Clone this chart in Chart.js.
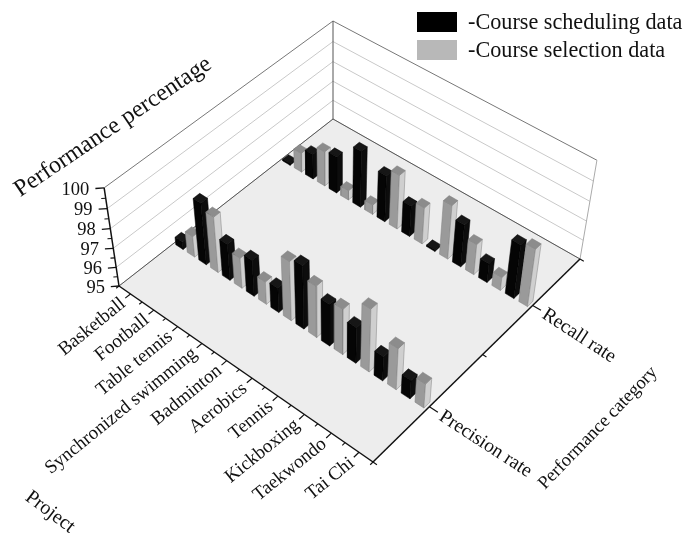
<!DOCTYPE html>
<html>
<head>
<meta charset="utf-8">
<style>
  html, body { margin: 0; padding: 0; background: #fff; }
  canvas { display: block; }
</style>
<script src="https://cdn.jsdelivr.net/npm/chart.js@4/dist/chart.umd.min.js"></script>
</head>
<body>
<canvas id="chart" width="687" height="534"></canvas>
<script>
// values
const projects = ['Basketball', 'Football', 'Table tennis', 'Synchronized swimming', 'Badminton',
  'Aerobics', 'Tennis', 'Kickboxing', 'Taekwondo', 'Tai Chi'];
const categories = ['Precision rate', 'Recall rate'];
const seriesNames = ['-Course scheduling data', '-Course selection data'];
const zTicks = [95, 96, 97, 98, 99, 100];

const schedulingPrecision = [95.4, 98.2, 96.9, 96.9, 96.3, 98.3, 97.2, 96.9, 96.3, 96.0];
const selectionPrecision = [96.1, 97.9, 96.6, 96.2, 98.1, 97.7, 97.4, 98.3, 97.2, 96.3];
const schedulingRecall = [95.1, 96.3, 96.9, 97.9, 97.4, 96.6, 95.1, 97.2, 96.0, 97.8];
const selectionRecall = [96.0, 96.8, 95.5, 95.5, 97.8, 96.9, 97.8, 96.6, 95.7, 98.0];

// camera: corners of the floor in canvas space and vanishing point of the verticals
const floorA = [119, 286], floorB = [373, 462], floorC = [580, 259], floorD = [333, 119];
const vanish = [333, 1700];
const backTopY = 21;

const dx1 = floorB[0] - floorC[0], dx2 = floorD[0] - floorC[0], sx = floorA[0] - floorB[0] + floorC[0] - floorD[0];
const dy1 = floorB[1] - floorC[1], dy2 = floorD[1] - floorC[1], sy = floorA[1] - floorB[1] + floorC[1] - floorD[1];
const det = dx1 * dy2 - dx2 * dy1;
const g = (sx * dy2 - dx2 * sy) / det, h = (dx1 * sy - sx * dy1) / det;
const a = floorB[0] - floorA[0] + g * floorB[0], b = floorD[0] - floorA[0] + h * floorD[0], c = floorA[0];
const d = floorB[1] - floorA[1] + g * floorB[1], e = floorD[1] - floorA[1] + h * floorD[1], f = floorA[1];
const k = -(floorD[1] - backTopY) * (h + 1) / (vanish[1] - backTopY);

// u along the project axis, v along the category axis, value on the vertical axis
function project3d(u, v, value) {
  const z = (value - 95) / 5;
  const w = g * u + h * v + 1 + k * z;
  return {
    x: (a * u + b * v + c + k * z * vanish[0]) / w,
    y: (d * u + e * v + f + k * z * vanish[1]) / w
  };
}

const datasets = [];

function face(points, fillColor, lineColor, lineWidth) {
  datasets.push({
    data: points.concat([points[0]]),
    showLine: true,
    fill: fillColor ? 'shape' : false,
    backgroundColor: fillColor || 'transparent',
    borderColor: lineColor || fillColor,
    borderWidth: lineWidth === undefined ? 0.5 : lineWidth,
    pointRadius: 0,
    tension: 0
  });
}

function line(p, q, color, width) {
  datasets.push({
    data: [p, q],
    showLine: true,
    fill: false,
    borderColor: color,
    borderWidth: width,
    pointRadius: 0,
    tension: 0
  });
}

// walls and floor
face([project3d(0, 0, 95), project3d(1, 0, 95), project3d(1, 1, 95), project3d(0, 1, 95)], '#ededed', '#ededed');
zTicks.forEach(t => {
  const col = t === 100 ? '#777777' : '#c9c9c9';
  line(project3d(0, 0, t), project3d(0, 1, t), col, 1);
  line(project3d(0, 1, t), project3d(1, 1, t), col, 1);
});
line(project3d(0, 1, 95), project3d(0, 1, 100), '#555555', 1);
line(project3d(1, 1, 95), project3d(1, 1, 100), '#aaaaaa', 1);
line(project3d(0, 0, 95), project3d(0, 1, 95), '#555555', 1);
line(project3d(0, 1, 95), project3d(1, 1, 95), '#555555', 1);

// axes
line(project3d(0, 0, 95), project3d(0, 0, 100), '#111111', 1.5);
line(project3d(0, 0, 95), project3d(1, 0, 95), '#111111', 1.5);
line(project3d(1, 0, 95), project3d(1, 1, 95), '#111111', 1.5);
zTicks.forEach(t => {
  line(project3d(0, 0, t), project3d(-0.017, -0.018, t), '#111111', 1.3);
  if (t < 100) line(project3d(0, 0, t + 0.5), project3d(-0.009, -0.009, t + 0.5), '#111111', 1.1);
});
projects.forEach((p, i) => {
  line(project3d((i + 0.5) / 10, 0, 95), project3d((i + 0.5) / 10, -0.022, 95), '#111111', 1.2);
});
for (let i = 0; i <= 10; i++) {
  line(project3d(i / 10, 0, 95), project3d(i / 10, -0.012, 95), '#111111', 1.1);
}
[0.25, 0.75].forEach(v => line(project3d(1, v, 95), project3d(1.03, v, 95), '#111111', 1.2));
[0, 0.5, 1].forEach(v => line(project3d(1, v, 95), project3d(1.014, v, 95), '#111111', 1.1));

const barDu = 0.016, barDv = 0.014;

function bar(u, v, value, colors) {
  const u0 = u - barDu, u1 = u + barDu, v0 = v - barDv, v1 = v + barDv;
  // left face, right face, top
  face([project3d(u0, v0, 95), project3d(u1, v0, 95), project3d(u1, v0, value), project3d(u0, v0, value)], colors.left, colors.edge);
  face([project3d(u1, v0, 95), project3d(u1, v1, 95), project3d(u1, v1, value), project3d(u1, v0, value)], colors.right, colors.edge);
  face([project3d(u0, v0, value), project3d(u1, v0, value), project3d(u1, v1, value), project3d(u0, v1, value)], colors.top, colors.edge);
}

const blackBar = { left: '#050505', right: '#0d0d0d', top: '#161616', edge: '#000000' };
const grayBar = { left: '#9a9a9a', right: '#cfcfcf', top: '#8c8c8c', edge: '#808080' };

// back row first so the front row paints over it
[[schedulingRecall, selectionRecall, 0.75], [schedulingPrecision, selectionPrecision, 0.25]].forEach(row => {
  projects.forEach((p, i) => {
    bar((i + 0.25) / 10, row[2], row[0][i], blackBar);
    bar((i + 0.75) / 10, row[2], row[1][i], grayBar);
  });
});

// chart.js paints the last dataset first
datasets.reverse();

function rotatedText(ctx, text, x, y, angle, font, align) {
  ctx.save();
  ctx.translate(x, y);
  ctx.rotate(angle * Math.PI / 180);
  ctx.font = font;
  ctx.textAlign = align;
  ctx.textBaseline = 'middle';
  ctx.fillStyle = '#111111';
  ctx.fillText(text, 0, 0);
  ctx.restore();
}

const labelsPlugin = {
  id: 'labels3d',
  afterDraw(chart) {
    const ctx = chart.ctx;
    const px = p => ({ x: chart.scales.x.getPixelForValue(p.x), y: chart.scales.y.getPixelForValue(p.y) });
    const serif = size => size + 'px "Liberation Serif"';

    zTicks.forEach(t => {
      const p = px(project3d(-0.03, -0.03, t));
      rotatedText(ctx, String(t), p.x, p.y + 1, 0, serif(18.5), 'right');
    });
    projects.forEach((name, i) => {
      const p = px(project3d((i + 0.5) / 10, -0.03, 95));
      rotatedText(ctx, name, p.x, p.y + 2, -39, serif(19), 'right');
    });
    categories.forEach((name, i) => {
      const p = px(project3d(1.04, i === 0 ? 0.25 : 0.75, 95));
      rotatedText(ctx, name, p.x, p.y + 1, 33, serif(19.5), 'left');
    });
    rotatedText(ctx, 'Performance percentage', 113, 127, -34, serif(24), 'center');
    rotatedText(ctx, 'Project', 50, 512, 37, serif(20), 'center');
    rotatedText(ctx, 'Performance category', 598, 428, -46, serif(18.5), 'center');

    // legend
    ctx.fillStyle = '#000000';
    ctx.fillRect(417, 12, 40, 20);
    ctx.fillStyle = '#b8b8b8';
    ctx.fillRect(417, 40, 40, 20);
    rotatedText(ctx, seriesNames[0], 468, 23, 0, serif(22.2), 'left');
    rotatedText(ctx, seriesNames[1], 468, 51, 0, serif(22.2), 'left');
  }
};

new Chart(document.getElementById('chart').getContext('2d'), {
  type: 'scatter',
  data: { datasets: datasets },
  options: {
    responsive: false,
    animation: false,
    layout: { padding: 0 },
    plugins: { legend: { display: false }, tooltip: { enabled: false } },
    scales: {
      x: { type: 'linear', min: 0, max: 687, display: false },
      y: { type: 'linear', min: 0, max: 534, reverse: true, display: false }
    }
  },
  plugins: [labelsPlugin]
});
</script>
</body>
</html>
